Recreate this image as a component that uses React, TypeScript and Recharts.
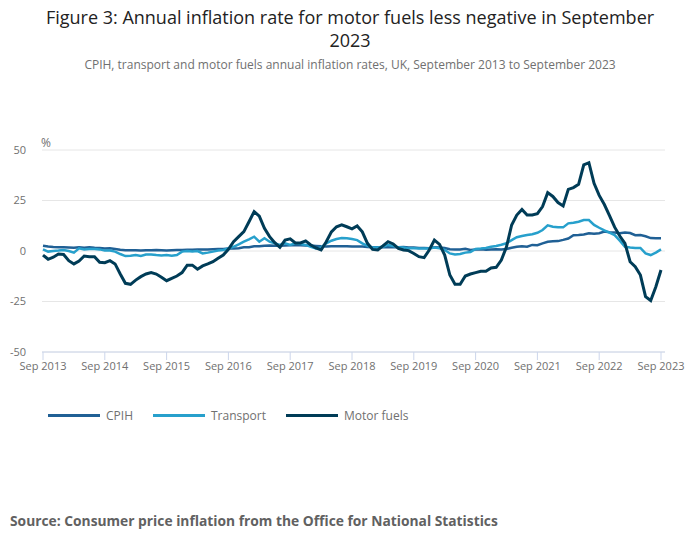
import { CartesianGrid, Line, LineChart, XAxis, YAxis } from "recharts";

// Monthly annual rates, Sep 2013 to Sep 2023 (one row per calendar year)
const cpih = [
  2.6, 2.2, 2.0, 1.9,
  1.8, 1.7, 1.6, 1.8, 1.6, 1.9, 1.6, 1.5, 1.2, 1.3, 1.0, 0.6,
  0.4, 0.4, 0.4, 0.3, 0.4, 0.4, 0.5, 0.4, 0.3, 0.4, 0.5, 0.5,
  0.6, 0.6, 0.8, 0.7, 0.7, 0.9, 1.0, 1.0, 1.2, 1.2, 1.4, 1.8,
  1.9, 2.3, 2.3, 2.6, 2.7, 2.6, 2.6, 2.7, 2.8, 2.8, 2.8, 2.7,
  2.7, 2.5, 2.3, 2.2, 2.3, 2.3, 2.3, 2.4, 2.2, 2.2, 2.2, 2.0,
  1.8, 1.8, 1.8, 2.0, 1.9, 1.9, 2.0, 1.7, 1.7, 1.5, 1.5, 1.4,
  1.8, 1.7, 1.5, 0.9, 0.7, 0.8, 1.1, 0.5, 0.7, 0.9, 0.6, 0.8,
  0.9, 0.7, 1.0, 1.6, 2.1, 2.4, 2.1, 3.0, 2.9, 3.8, 4.6, 4.8,
  4.9, 5.5, 6.2, 7.8, 7.9, 8.2, 8.8, 8.6, 8.8, 9.6, 9.3, 9.2,
  8.8, 9.2, 8.9, 7.8, 7.9, 7.3, 6.4, 6.3, 6.3
];

const transport = [
  0.8, -0.3, 0, 0.2,
  0.5, 0, -0.8, 1.3, 0.8, 1, 1, 0.8, 0.2, 0.2, -0.3, -1.5,
  -2.5, -2.3, -2, -2.5, -1.7, -1.7, -2, -2.2, -2, -2.3, -2, -0.3,
  0, -0.3, 0, -1.2, -0.8, -0.3, 0.2, 0.5, 1.3, 2.1, 3.3, 4.6,
  5.8, 7.1, 4.6, 6.3, 4.6, 3.8, 3, 3.8, 3, 3.8, 3.5, 3,
  2.1, 1.3, 1.7, 3.8, 5.1, 5.9, 6.4, 6.3, 5.9, 5.4, 3.8, 2.5,
  1.7, 1.7, 2.1, 3, 2.5, 1.8, 1.7, 1.3, 1.3, 1.2, 1.2, 1.2,
  1.7, 1.3, 0.5, -1.2, -1.7, -1.5, -0.8, -0.5, 1, 1.2, 1.5, 2.1,
  2.5, 3.1, 3.8, 5.4, 6.8, 7.4, 7.9, 8.3, 9, 10.4, 12.7, 12,
  11.7, 11.7, 13.7, 14, 14.5, 15.3, 15.3, 12.9, 11.5, 10.2, 9.1, 7.9,
  5.1, 2.1, 1.7, 1.5, 1.5, -1.2, -2, -0.8, 0.8
];

const motorFuels = [
  -2, -4.1, -3.1, -1.5,
  -1.7, -4.8, -6.4, -5, -2.5, -2.8, -2.8, -5.6, -5.8, -4.8, -6.4, -11.4,
  -16, -16.5, -14.4, -12.7, -11.4, -10.7, -11.4, -13, -14.7, -13.5, -12.4, -10.7,
  -7, -7, -9, -7.4, -6.4, -5.3, -3.6, -2, 0.8, 4.6, 7.1, 9.6,
  14.5, 19.5, 17.3, 11.2, 7.1, 4.1, 1.8, 5.4, 6, 4, 4, 5,
  3, 1.5, 0.5, 4.6, 9.5, 12, 13, 12, 11, 12.4, 9.5, 3.8,
  0.8, 0.5, 2.5, 4.6, 3.5, 1.3, 0.5, 0.2, -1.2, -2.8, -3.3, 0.5,
  5.4, 3.3, -2, -11.9, -16.5, -16.5, -12.4, -11.4, -10.7, -10, -10, -8.4,
  -8.1, -4.5, 2.1, 12.9, 17.8, 20.6, 17.8, 17.8, 18.5, 22, 28.9, 27,
  24, 22.3, 30.5, 31.4, 33, 42.6, 43.7, 33.5, 27.5, 23, 17.5, 11.8,
  7.4, 3.8, -5.3, -7.8, -11.9, -22.6, -24.5, -17.7, -9.4
];

const tickLabels = [
  "Sep 2013", "Sep 2014", "Sep 2015", "Sep 2016", "Sep 2017", "Sep 2018",
  "Sep 2019", "Sep 2020", "Sep 2021", "Sep 2022", "Sep 2023"
];
const xTicks = tickLabels.map((_, i) => i * 12);
const yTicks = [-50, -25, 0, 25, 50];

const series = [
  { key: "cpih", name: "CPIH", color: "#206095" },
  { key: "transport", name: "Transport", color: "#27a0cc" },
  { key: "motorFuels", name: "Motor fuels", color: "#003c57" }
];

const data = cpih.map((v, i) => ({
  idx: i,
  cpih: v,
  transport: transport[i],
  motorFuels: motorFuels[i]
}));

const FONT = "'Open Sans', sans-serif";
const GREY = "#707070";

export default function App() {
  return (
    <div
      style={{
        position: "absolute",
        left: 0,
        top: 0,
        width: 700,
        height: 549,
        background: "#fff",
        fontFamily: FONT
      }}
    >
      <div
        style={{
          position: "absolute",
          top: 6,
          left: 0,
          width: 700,
          textAlign: "center",
          fontSize: 18,
          lineHeight: "23px",
          color: "#222"
        }}
      >
        Figure 3: Annual inflation rate for motor fuels less negative in September
        <br />
        2023
      </div>
      <div
        style={{
          position: "absolute",
          top: 56,
          left: 0,
          width: 700,
          textAlign: "center",
          fontSize: 12,
          color: GREY
        }}
      >
        CPIH, transport and motor fuels annual inflation rates, UK, September 2013 to September 2023
      </div>
      <div style={{ position: "absolute", top: 134, left: 41, fontSize: 12, color: GREY }}>%</div>

      <div style={{ position: "absolute", top: 0, left: 0 }}>
        <LineChart
          width={700}
          height={549}
          data={data}
          margin={{ top: 150, right: 35, bottom: 167, left: 0 }}
        >
          <CartesianGrid vertical={false} stroke="#e6e6e6" />
          <XAxis
            dataKey="idx"
            type="number"
            domain={[0, 120]}
            ticks={xTicks}
            interval={0}
            tickFormatter={(v: number) => tickLabels[v / 12]}
            padding={{ left: 1, right: 4 }}
            stroke="#ccd6eb"
            tickSize={8}
            tickMargin={2}
            tick={{ fill: GREY, fontSize: 11, fontFamily: FONT }}
            height={30}
          />
          <YAxis
            domain={[-50, 50]}
            ticks={yTicks}
            width={42}
            axisLine={false}
            tickLine={false}
            tickSize={6}
            tickMargin={10}
            tick={{ fill: GREY, fontSize: 11, fontFamily: FONT }}
          />
          {series.map((s) => (
            <Line
              key={s.key}
              dataKey={s.key}
              name={s.name}
              type="linear"
              stroke={s.color}
              strokeWidth={s.key === "motorFuels" ? 3 : 2.5}
              dot={false}
              isAnimationActive={false}
            />
          ))}
        </LineChart>
      </div>

      <div
        style={{
          position: "absolute",
          top: 407,
          left: 48,
          display: "flex",
          alignItems: "center",
          fontSize: 12,
          color: GREY
        }}
      >
        {series.map((s) => (
          <div key={s.key} style={{ display: "flex", alignItems: "center", marginRight: 20 }}>
            <span
              style={{
                display: "inline-block",
                width: 52,
                height: 3,
                background: s.color,
                marginRight: 6
              }}
            />
            <span>{s.name}</span>
          </div>
        ))}
      </div>

      <div
        style={{
          position: "absolute",
          top: 511,
          left: 10,
          fontSize: 13.8,
          fontWeight: 700,
          color: "#616161"
        }}
      >
        Source: Consumer price inflation from the Office for National Statistics
      </div>
    </div>
  );
}
